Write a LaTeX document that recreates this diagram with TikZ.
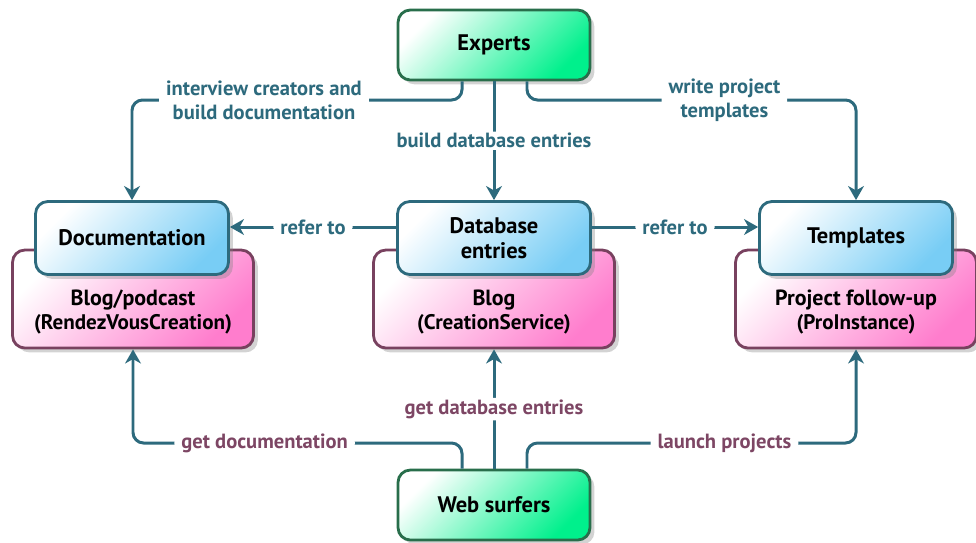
\documentclass[tikz,border=0pt]{standalone}
\usepackage{fontspec}
\setmainfont{PT Sans}
\usetikzlibrary{arrows.meta,shadows}

\definecolor{linkcol}{RGB}{45,106,125}
\definecolor{usecol}{RGB}{125,70,100}
\definecolor{greenline}{RGB}{40,110,75}
\definecolor{greenfill}{RGB}{0,240,140}
\definecolor{blueline}{RGB}{45,106,125}
\definecolor{bluefill}{RGB}{120,205,245}
\definecolor{pinkline}{RGB}{120,65,95}
\definecolor{pinkfill}{RGB}{255,125,205}

\tikzstyle{box}=[rounded corners=7pt,line width=1.6pt,align=center,
  font=\fontsize{12.8}{14}\selectfont\bfseries,
  drop shadow={opacity=0.35,shadow xshift=2.5pt,shadow yshift=-2.5pt}]
\tikzstyle{actor}=[box,draw=greenline,top color=white,bottom color=greenfill,
  shading angle=45,minimum width=3.84cm,minimum height=1.4cm]
\tikzstyle{data}=[box,draw=blueline,top color=white,bottom color=bluefill,
  shading angle=45,minimum width=3.86cm,minimum height=1.46cm]
\tikzstyle{site}=[box,draw=pinkline,top color=white,bottom color=pinkfill,
  shading angle=45,minimum width=4.82cm,minimum height=1.96cm]
\tikzstyle{sitetext}=[align=center,font=\fontsize{12.5}{14}\selectfont\bfseries]
\tikzstyle{link}=[draw=linkcol,line width=1.7pt,rounded corners=6pt,
  -{Stealth[length=8pt,width=9pt,inset=2.5pt]}]
\tikzstyle{lbl}=[fill=white,inner xsep=4pt,inner ysep=1pt,align=center,
  font=\fontsize{11.7}{13.6}\selectfont\bfseries,text=linkcol]
\tikzstyle{ulbl}=[lbl,text=usecol]

\begin{document}
\begin{tikzpicture}[x=0.02cm,y=-0.02cm]
\useasboundingbox (0,0) rectangle (976,542);

% people
\node[actor] (experts) at (494,45) {Experts};
\node[actor] (surfers) at (494,505) {Web surfers};

% sites
\node[site] (blog) at (133,299) {};
\node[site] (service) at (494,299) {};
\node[site] (follow) at (856,299) {};
\node[sitetext] (blogt) at (133,312) {Blog/podcast\\{\fontsize{12}{14}\selectfont(RendezVousCreation)}};
\node[sitetext] (servicet) at (494,312) {Blog\\{\fontsize{12}{14}\selectfont(CreationService)}};
\node[sitetext] (followt) at (856,312) {Project follow-up\\{\fontsize{12}{14}\selectfont(ProInstance)}};

% data
\node[data] (doc) at (132,238) {Documentation};
\node[data] (dbase) at (494,238) {Database\\entries};
\node[data] (tmpl) at (856,238) {Templates};

% experts build the data
\draw[link] ([xshift=-0.64cm]experts.south) |- node[lbl,pos=0.8] {interview creators and\\build documentation} (doc.north |- 0,100) -- (doc.north);
\draw[link] (experts.south) -- node[lbl] {build database entries} (dbase.north);
\draw[link] ([xshift=0.66cm]experts.south) |- node[lbl,pos=0.8] {write project\\templates} (tmpl.north |- 0,100) -- (tmpl.north);

% references
\draw[link] ([yshift=0.22cm]dbase.west) -- node[lbl] {refer to} ([yshift=0.22cm]doc.east);
\draw[link] ([yshift=0.22cm]dbase.east) -- node[lbl] {refer to} ([yshift=0.22cm]tmpl.west);

% surfers use the sites
\draw[link] ([xshift=-0.64cm]surfers.north) |- node[ulbl,pos=0.8] {get documentation} (blog.south |- 0,443) -- (blog.south);
\draw[link] (surfers.north) -- node[ulbl] {get database entries} (service.south);
\draw[link] ([xshift=0.66cm]surfers.north) |- node[ulbl,pos=0.8] {launch projects} (follow.south |- 0,443) -- (follow.south);

\end{tikzpicture}
\end{document}
